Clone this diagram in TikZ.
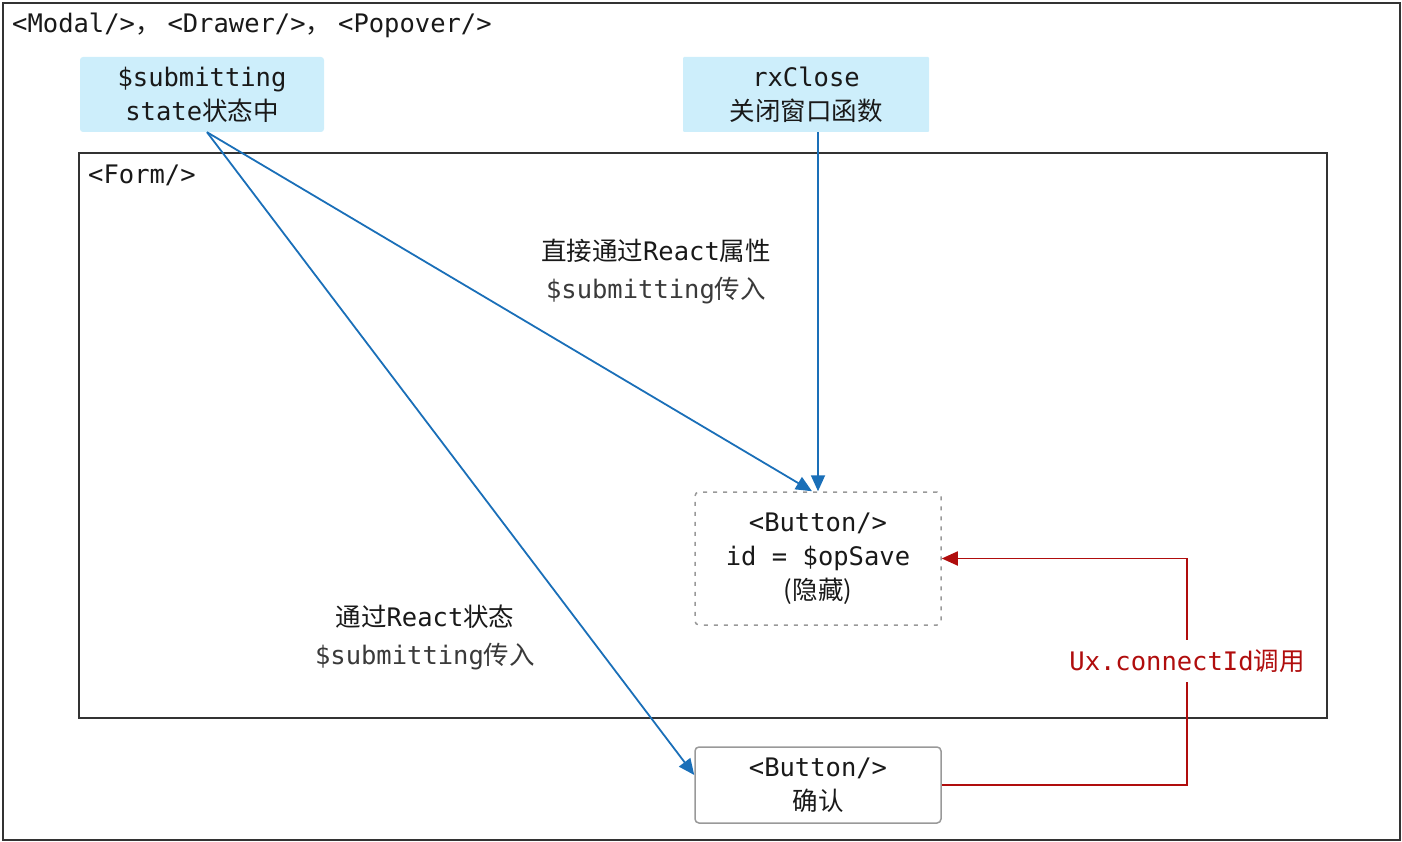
\documentclass[tikz,border=0pt]{standalone}
\usepackage{fontspec}
\setmonofont{DejaVu Sans Mono}
\newfontfamily\cjk{Noto Sans CJK SC}
\usetikzlibrary{positioning,calc,arrows.meta}

\definecolor{frameGray}{HTML}{333333}
\definecolor{stateBlue}{HTML}{CDEEFB}
\definecolor{flowBlue}{HTML}{1A6FB8}
\definecolor{callRed}{HTML}{B00D0D}
\definecolor{dashGray}{HTML}{999999}
\definecolor{noteGray}{HTML}{3A3A3A}

\tikzset{
    every node/.style={font=\ttfamily\fontsize{25.5}{34}\selectfont, text=black!90},
    frame/.style={draw=frameGray, line width=1.8pt},
    statebox/.style={fill=stateBlue, rounded corners=3pt, align=center, minimum height=75pt},
    btnbox/.style={draw=dashGray, rounded corners=4pt, align=center, line width=1.5pt, minimum width=246pt},
    flow/.style={draw=flowBlue, line width=1.8pt, -{Triangle[length=16pt, width=14pt]}},
    call/.style={draw=callRed, line width=1.8pt},
    flowlabel/.style={align=center, font=\ttfamily\fontsize{25.5}{38}\selectfont},
}

\begin{document}
\begin{tikzpicture}[x=1pt, y=-1pt]
    \useasboundingbox (0,0) rectangle (1402,842);

    % Outer container and form
    \draw[frame] (3,3) rectangle (1400,840);
    \node[anchor=base west, inner sep=0pt] (modal) at (12,33)
        {<Modal/>{\cjk ，}\hspace{7pt}<Drawer/>{\cjk ，}\hspace{7pt}<Popover/>};
    \draw[frame] (79,153) rectangle (1327,718);
    \node[anchor=base west, inner sep=0pt] (form) at (88,184) {<Form/>};

    % Sources
    \node[statebox, minimum width=244pt] (sub) at (202,94.5) {\$submitting\\state{\cjk 状态中}};
    \node[statebox, minimum width=246pt, rounded corners=1pt] (rx) at (806,94.5) {rxClose\\{\cjk 关闭窗口函数}};

    % Buttons
    \node[btnbox, dashed, dash pattern=on 4pt off 6pt, minimum height=133pt] (hid) at (818,558.5)
        {<Button/>\\id = \$opSave\\{\cjk (隐藏)}};
    \node[btnbox, minimum height=76pt] (conf) at (818,785) {<Button/>\\{\cjk 确认}};

    % Blue flows
    \draw[flow] ($(sub.south)+(5,0)$) -- ($(hid.north)+(-6,0)$);
    \draw[flow] ($(sub.south)+(5,0)$) -- ($(conf.west)+(0,-10)$);
    \draw[flow] (rx.south -| hid.north) -- (hid.north);

    % Flow labels
    \node[flowlabel] (prop) at (656,272)
        {{\cjk 直接通过}React{\cjk 属性}\\\textcolor{noteGray}{\$submitting{\cjk 传入}}};
    \node[flowlabel] (state) at (425,637)
        {{\cjk 通过}React{\cjk 状态}\\\textcolor{noteGray}{\$submitting{\cjk 传入}}};

    % Red call
    \node[fill=white, text=callRed, inner sep=4pt, minimum height=42pt] (ux) at (1187,661) {Ux.connectId{\cjk 调用}};
    \draw[call] (conf.east) -| (ux.south);
    \draw[call, -{Triangle[length=16pt, width=14pt]}] (ux.north) |- (hid.east);
\end{tikzpicture}
\end{document}
